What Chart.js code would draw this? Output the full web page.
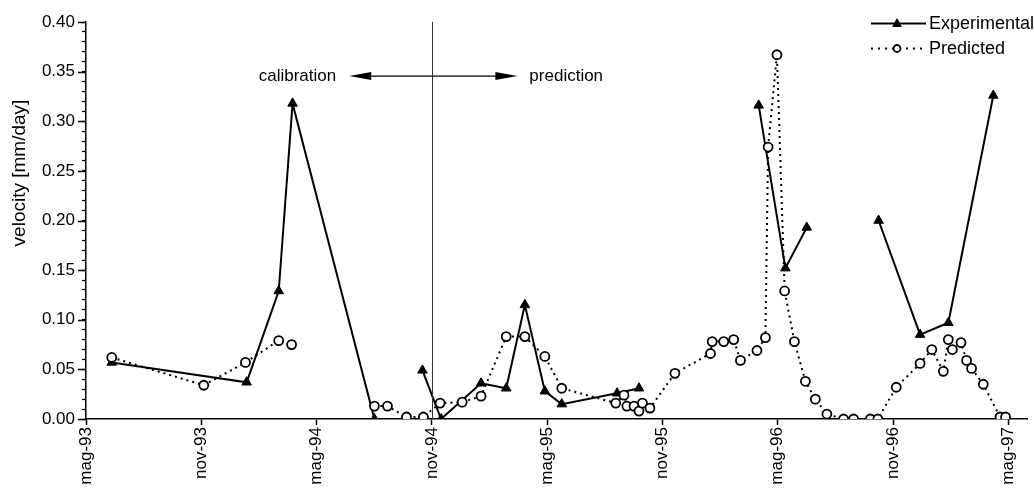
<!DOCTYPE html>
<html>
<head>
<meta charset="utf-8">
<script src="https://cdn.jsdelivr.net/npm/chart.js@4.4.1/dist/chart.umd.min.js"></script>
<style>
  html, body { margin: 0; padding: 0; background: #fff; }
  #wrap { width: 1034px; height: 491px; }
</style>
</head>
<body>
<div id="wrap"><canvas id="velocityChart" width="1034" height="491"></canvas></div>
<script>
// months counted from May 1993 (mag-93 = 0)
const tickMonths = [0, 6, 12, 18, 24, 30, 36, 42, 48];
const tickLabels = ["mag-93", "nov-93", "mag-94", "nov-94", "mag-95", "nov-95", "mag-96", "nov-96", "mag-97"];

// experimental velocity, null = break in the line
const expMonths = [1.34, 8.36, 10.03, 10.75, 15.01, 16.3, 17.51, 18.48, 20.56, 21.87, 22.84, 23.88, 24.76, 27.64, 28.78, 32, 35.01, 36.40, 37.51, 39.5, 41.25, 43.41, 44.88, 47.22];
const expValues = [0.057, 0.037, 0.129, 0.318, 0.0, null, 0.049, 0.0, 0.036, 0.031, 0.115, 0.028, 0.015, 0.026, 0.031, null, 0.316, 0.152, 0.193, null, 0.200, 0.085, 0.097, 0.326];

// predicted velocity
const predMonths = [1.34, 6.13, 8.30, 10.03, 10.70, 13, 15.01, 15.69, 16.68, 17.56, 18.43, 19.58, 20.56, 21.87, 22.84, 23.88, 24.76,
  27.57, 28.00, 28.15, 28.52, 28.78, 28.96, 29.35, 30.65, 32.50, 32.59, 33.19, 33.71, 34.06, 34.92, 35.36, 35.50, 35.96, 36.36,
  36.87, 37.44, 37.96, 38.56, 39.43, 39.95, 40.82, 41.21, 42.17, 43.41, 44.02, 44.62, 44.88, 45.09, 45.54, 45.83, 46.09, 46.70, 47.57, 47.86];
const predValues = [0.062, 0.034, 0.057, 0.079, 0.075, null, 0.013, 0.013, 0.002, 0.002, 0.016, 0.017, 0.023, 0.083, 0.083, 0.063, 0.031,
  0.016, 0.024, 0.013, 0.013, 0.008, 0.016, 0.011, 0.046, 0.066, 0.078, 0.078, 0.080, 0.059, 0.069, 0.082, 0.274, 0.367, 0.129,
  0.078, 0.038, 0.020, 0.005, 0.0, 0.0, 0.0, 0.0, 0.032, 0.056, 0.070, 0.048, 0.080, 0.070, 0.077, 0.059, 0.051, 0.035, 0.002, 0.002];

const FONT = '"Liberation Sans", Arial, sans-serif';

function toPoints(xs, ys) {
  return xs.map((x, i) => ({ x: x, y: ys[i] }));
}

const decorations = {
  id: "decorations",
  afterDraw(chart) {
    const ctx = chart.ctx;
    const xs = chart.scales.x;
    const ys = chart.scales.y;
    const area = chart.chartArea;
    ctx.save();

    // longer major ticks on the y axis
    ctx.strokeStyle = "#000";
    ctx.lineWidth = 1.5;
    for (let v = 0; v <= 0.4001; v += 0.05) {
      const py = Math.round(ys.getPixelForValue(v)) + 0.5;
      ctx.beginPath();
      ctx.moveTo(area.left - 8, py);
      ctx.lineTo(area.left, py);
      ctx.stroke();
    }

    // boundary calibration / prediction
    const bx = Math.round(xs.getPixelForValue(18)) + 0.5;
    ctx.strokeStyle = "#333";
    ctx.lineWidth = 1;
    ctx.beginPath();
    ctx.moveTo(bx, area.top);
    ctx.lineTo(bx, area.bottom);
    ctx.stroke();

    const ay = ys.getPixelForValue(0.3455);
    const leftTip = xs.getPixelForValue(13.7);
    const rightTip = xs.getPixelForValue(22.45);
    ctx.strokeStyle = "#000";
    ctx.fillStyle = "#000";
    ctx.lineWidth = 1.2;
    ctx.beginPath();
    ctx.moveTo(leftTip + 18, ay);
    ctx.lineTo(rightTip - 18, ay);
    ctx.stroke();
    [[leftTip, 1], [rightTip, -1]].forEach(([tx, dir]) => {
      ctx.beginPath();
      ctx.moveTo(tx, ay);
      ctx.lineTo(tx + dir * 22, ay - 4);
      ctx.lineTo(tx + dir * 22, ay + 4);
      ctx.closePath();
      ctx.fill();
    });

    ctx.font = "17px " + FONT;
    ctx.textBaseline = "middle";
    ctx.textAlign = "right";
    ctx.fillText("calibration", leftTip - 13, ay);
    ctx.textAlign = "left";
    ctx.fillText("prediction", rightTip + 12, ay);

    // y axis title
    ctx.save();
    ctx.translate(20, 173);
    ctx.rotate(-Math.PI / 2);
    ctx.textAlign = "center";
    ctx.font = "19px " + FONT;
    ctx.fillText("velocity [mm/day]", 0, 0);
    ctx.restore();

    // legend
    ctx.textAlign = "left";
    ctx.font = "18px " + FONT;
    ctx.lineWidth = 2;
    ctx.setLineDash([]);
    ctx.beginPath();
    ctx.moveTo(871, 23.5);
    ctx.lineTo(926, 23.5);
    ctx.stroke();
    ctx.beginPath();
    ctx.moveTo(897, 18);
    ctx.lineTo(902, 27);
    ctx.lineTo(892, 27);
    ctx.closePath();
    ctx.fill();
    ctx.fillText("Experimental", 929, 24);

    ctx.lineWidth = 1.8;
    ctx.setLineDash([2, 5]);
    ctx.beginPath();
    ctx.moveTo(871, 48.5);
    ctx.lineTo(926, 48.5);
    ctx.stroke();
    ctx.setLineDash([]);
    ctx.fillStyle = "#fff";
    ctx.lineWidth = 1.8;
    ctx.beginPath();
    ctx.arc(897, 48.5, 3.5, 0, Math.PI * 2);
    ctx.fill();
    ctx.stroke();
    ctx.fillStyle = "#000";
    ctx.fillText("Predicted", 929, 49);

    ctx.restore();
  },
};

new Chart(document.getElementById("velocityChart"), {
  type: "line",
  data: {
    datasets: [
      {
        label: "Predicted",
        data: toPoints(predMonths, predValues),
        borderColor: "#000",
        borderWidth: 2,
        borderDash: [2, 4],
        backgroundColor: "#fff",
        pointStyle: "circle",
        pointRadius: 4.5,
        pointBorderWidth: 1.8,
        pointBorderColor: "#000",
        pointBackgroundColor: "#fff",
        spanGaps: false,
        tension: 0,
        order: 0,
      },
      {
        label: "Experimental",
        data: toPoints(expMonths, expValues),
        borderColor: "#000",
        borderWidth: 2,
        backgroundColor: "#000",
        pointStyle: "triangle",
        pointRadius: 5.5,
        pointBorderWidth: 1,
        pointBackgroundColor: "#000",
        spanGaps: false,
        tension: 0,
        order: 1,
      },
    ],
  },
  options: {
    responsive: false,
    animation: false,
    devicePixelRatio: 1,
    layout: { padding: { top: 22, right: 5, left: 0, bottom: 0 } },
    plugins: {
      legend: { display: false },
      tooltip: { enabled: false },
    },
    scales: {
      x: {
        type: "linear",
        min: 0,
        max: 49,
        afterBuildTicks: (axis) => {
          axis.ticks = tickMonths.map((v) => ({ value: v }));
        },
        afterFit: (axis) => {
          axis.height = 72;
        },
        ticks: {
          autoSkip: false,
          maxRotation: 90,
          minRotation: 90,
          padding: 2,
          color: "#000",
          font: { family: FONT, size: 17 },
          callback: (value) => {
            const i = tickMonths.indexOf(value);
            return i >= 0 ? tickLabels[i] : "";
          },
        },
        grid: {
          drawOnChartArea: false,
          drawTicks: true,
          tickLength: 6,
          tickColor: "#000",
          tickWidth: 1.5,
        },
        border: { color: "#000", width: 1.5 },
      },
      y: {
        min: 0,
        max: 0.4,
        afterFit: (axis) => {
          axis.width = 86;
        },
        ticks: {
          stepSize: 0.01,
          autoSkip: false,
          padding: 7,
          color: "#000",
          font: { family: FONT, size: 17 },
          callback: (value) => {
            const h = Math.round(value * 100);
            return h % 5 === 0 ? (h / 100).toFixed(2) : "";
          },
        },
        grid: {
          drawOnChartArea: false,
          drawTicks: true,
          tickLength: 4,
          tickColor: "#000",
          tickWidth: 1.2,
        },
        border: { color: "#000", width: 1.5 },
      },
    },
  },
  plugins: [decorations],
});
</script>
</body>
</html>
